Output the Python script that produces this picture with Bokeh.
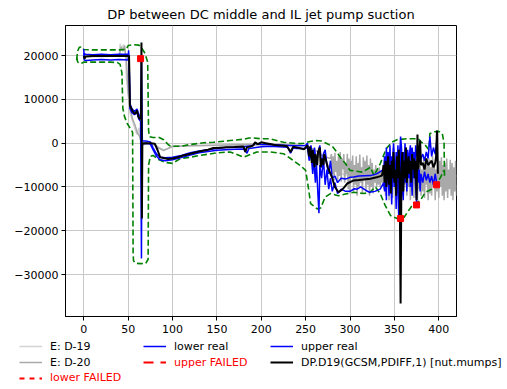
from bokeh.plotting import figure
from bokeh.layouts import column
from bokeh.models import Range1d, FixedTicker, Legend, LegendItem, CustomJSTickFormatter
from bokeh.embed import file_html
from bokeh.resources import INLINE

FONT = "DejaVu Sans"

# ---------------- data ----------------
x_ticks = [0, 50, 100, 150, 200, 250, 300, 350, 400]
y_ticks = [-30000, -20000, -10000, 0, 10000, 20000]

d19_x = [0, 10, 20, 30, 40, 41, 43, 45, 47, 48, 50, 52, 55, 58, 60, 62, 64, 66, 70, 75, 80, 85, 90,
         95, 100, 120, 150, 180, 200, 220, 240, 250, 260, 270, 280, 290, 300, 320, 340, 360, 380, 400, 420]
d19_y = [20000, 20000, 20000, 20000, 20100, 22700, 21500, 22500, 20000, 15000, 11000, 7000, 5000, 3000,
         2000, 3500, 800, -500, 0, 100, -300, -1000, -1500, -1200, -800, -600, -500, -500, -400, -300,
         -400, -500, -2000, -4000, -6000, -7000, -7500, -7500, -7000, -7500, -7500, -7000, -7500]

d20_x_early = [0, 20, 40, 42, 44, 46, 48, 50, 52, 55, 58, 60, 63, 65, 68, 75, 80, 85, 90, 95, 100,
               130, 160, 190, 220, 250, 260, 270]
d20_y_early = [19800, 19800, 19900, 22000, 21000, 22300, 19000, 12000, 8000, 5500, 4000, 2500, 1500, 0,
               -300, 0, -500, -1200, -1700, -1200, -700, -500, -400, -300, -300, -500, -1500, -3000]
d20_y_noise = [
    -3500, -2500, -7000, -3000, -8500, -2200, -6500, -4000, -9000, -3000, -7500, -2000, -8800, -3500,
    -6000, -2500, -9000, -4500, -7000, -2400, -10500, -3500, -11500, -4000, -8000, -2800, -11000, -5000,
    -9500, -3000, -12000, -4500, -10000, -2600, -9000, -5500, -11500, -3200, -8500, -4000, -11000, -2800,
    -9500, -5000, -12000, -3500, -10000, -4500, -11500, -6000, -9000, -5000, -10000, -6000, -9500, -5500,
    -10000, -6500, -9000, -5000, -10500, -4000, -12000, -3500, -9000, -5000, -13000, -3200, -10500, -6000,
    -12500, -4000, -9000, -3500, -12000, -5500, -10500, -3000, -13000, -6000, -11000, -3500, -12500, -4500,
    -9500, -3200, -12000, -6500, -10000, -3500, -13000, -5000, -11000, -4000, -12500, -3300, -9500, -5500,
    -13000, -4000, -10500, -3500, -12000, -6000, -11000, -3200, -12500, -5000, -9500, -4000, -13000, -3500,
    -11500, -5500, -12000, -3000, -10000, -4500, -13000, -6000, -11000, -3500, -12500, -4000, -10000, -3200,
    -12000, -5000, -13000, -4500, -11000, -3500, -12500, -6000, -10500, -3800, -12000, -4500, -13000, -5500,
    -11000, -4000, -12000]
d20_x = d20_x_early + list(range(278, 278 + len(d20_y_noise)))
d20_y = d20_y_early + d20_y_noise

env_up_x = [-8, -7, -5, -2, 0, 10, 20, 30, 40, 48, 50, 56, 62, 65, 69, 72, 73, 74, 78, 85, 90, 95, 98,
            109, 120, 135, 146, 165, 180, 186, 190, 200, 210, 225, 237, 241, 248, 255, 262, 268, 275, 280,
            285, 289, 295, 300, 314, 323, 327, 334, 341, 347, 353, 364, 377, 380, 385, 389, 390, 395, 400,
            404, 406, 406.5]
env_up_y = [19000, 21000, 21900, 22000, 21400, 21300, 21300, 21300, 21300, 21400, 22300, 22500, 22400,
            21800, 20500, 18500, 3000, 1500, 1300, 1300, 800, -300, -700, -700, -300, 100, 200, 600, 900,
            1200, 1200, 1000, 1000, 200, 0, -100, 0, 400, 600, 500, -200, -700, -2000, -3200, -4700, -6200,
            -6600, -5500, -7400, -4700, -1200, 200, 800, 1000, 1000, 300, -500, -1500, 2200, 2600, 2700,
            2200, 0, -8000]

env_lo_x = [-8, -7, -5, -2, 0, 10, 20, 30, 38, 41, 43, 44, 46, 49, 52, 55, 55.6, 56, 58, 64, 70, 72.5,
            73, 75, 78, 85, 92, 100, 109, 120, 131, 150, 165, 180, 195, 210, 225, 233, 244, 250, 253,
            255.6, 263, 267, 272, 278, 287, 295, 304, 315, 322, 328.6, 334, 339.6, 345.6, 353, 361, 366,
            370, 379, 385, 392, 398, 402, 405.6]
env_lo_y = [19600, 18600, 18200, 18300, 18500, 18500, 18500, 18500, 18400, 18000, 16000, 8000, 6000,
            4500, 3500, 2500, -25000, -26800, -27400, -27500, -27400, -26500, -5000, -3000, -2800, -3800,
            -4400, -4600, -3500, -3200, -2800, -2200, -2000, -3200, -2000, -2000, -2400, -3500, -5100, -6200,
            -10000, -13800, -15000, -14800, -12300, -11500, -12000, -11600, -11200, -11500, -11300, -10000,
            -11500, -14200, -16500, -17200, -16900, -15400, -14200, -13100, -11200, -10500, -9200, -7800,
            -6200]

lower_x = [0, 0.5, 2, 10, 20, 30, 40, 50, 50.5, 51, 52, 54, 57, 60, 62, 64, 65, 65.5, 67, 70, 75, 78,
           82, 86, 92, 100, 110, 120, 130, 140, 150, 160, 170, 180, 184, 186, 190, 200, 210, 220, 230,
           233, 236, 240, 250,
           252, 254, 256, 258, 259, 261, 262, 264, 265, 266, 268, 270, 272, 274, 276, 278, 280, 283, 286,
           290, 295, 300, 305, 308, 312, 318, 322, 328, 334, 338,
           339, 340, 341, 342, 343, 344, 345, 346, 347, 348, 349, 350, 351, 352, 353, 354, 355, 356, 357,
           358, 359, 360, 361, 362, 363, 364, 365, 366, 367, 368, 369, 370, 371, 372, 373, 374, 375, 376,
           377, 378, 379, 380, 382, 384, 386, 388, 390, 392, 394, 396, 398]
lower_y = [21500, 19000, 18900, 19000, 19100, 19000, 19100, 19000, 21200, 19000, 8000, 7000, 6500, 7000,
           5500, 5000, -26300, -300, -100, 0, -200, -1500, -3000, -3800, -4000, -3800, -3300, -2700, -2200,
           -1900, -1600, -1500, -1400, -1300, -2300, -1200, -1100, -800, -700, -800, -900, -2300, -1100,
           -1200, -1200,
           -800, -4000, -2000, -7000, -3000, -9000, -4000, -12300, -16000, -5000, -8000, -3500, -9500,
           -6000, -10500, -8000, -11000, -9000, -11500, -10500, -11000, -11000, -10400, -10500, -10000,
           -10800, -11200, -11000, -10500, -9000,
           -11000, -4000, -13000, -2000, -8000, -12000, -3000, -9000, -14000, -5000, -1000, -10000, -6000,
           -15000, -4000, -11000, -17300, -2000, -500, -12000, -6000, -13000, -3000, -9000, -1000, -11000,
           -4000, -8000, -2000, -10000, -5000, -12000, -3000, -8000, -6000, -10000, -13500, -4000, -9000,
           -6000, -11000, -7000, -9000, -6500, -8500, -7000, -9000, -7500, -9500, -7000, -9500]

upper_x = [0, 0.5, 2, 10, 20, 30, 40, 50, 51, 52, 54, 57, 60, 62, 64, 65, 66, 70, 75, 78, 82, 86, 92,
           100, 110, 120, 130, 140, 150, 160, 170, 180, 190, 193, 200, 210, 220, 230, 240, 250,
           252, 254, 256, 258, 260, 262, 264, 266, 268, 270, 272, 274, 276, 278, 280, 283, 286, 290, 295,
           300, 304, 310, 323, 330, 338,
           339, 340, 341, 342, 343, 344, 345, 346, 347, 348, 349, 350, 351, 352, 353, 354, 355, 356, 357,
           358, 359, 360, 361, 362, 363, 364, 365, 366, 367, 368, 369, 370, 371, 372, 373, 374, 375, 376,
           377, 378, 380, 382, 384, 386, 388, 390, 392, 394, 396, 398]
upper_y = [19500, 20500, 20300, 20200, 20300, 20200, 20300, 20300, 20000, 9000, 8000, 7200, 7800, 6500,
           6000, 19500, 500, 500, 300, -1000, -2500, -3200, -3300, -3200, -2800, -2200, -1800, -1500, -1200,
           -1000, -900, -800, -600, 0, -300, -300, -400, -500, -600, -500,
           0, -2500, -500, -4000, -1000, -5000, -2000, -500, -5500, -2500, -1500, -5000, -7000, -4000,
           -8000, -7500, -9000, -8000, -8200, -7800, -7700, -7500, -7400, -7000, -6000,
           -3000, -8000, -1000, -6000, -2000, -9000, -500, -7000, -3000, -10000, 0, -5000, -8000, -2000,
           -7000, -500, -9000, -3000, 1500, -1000, -8000, -2000, -5000, 0, -7000, -3000, -1500, -6000,
           -2500, -500, -5000, -1000, -4000, -2000, -6000, -500, -3000, -1500, -4500, -2000, -3500, -2500,
           -4000, -2000, -3500, 1500, -3000, -1000, -2500, 1000]

dp_x = [0, 1, 2, 10, 20, 30, 40, 50, 51, 52, 54.5, 56, 58, 60, 61.6, 63, 64.5, 65, 65.5, 66, 67, 75, 80,
        83, 86, 90, 95, 100, 106, 112, 120, 130, 140, 146, 150, 161, 170, 180, 182, 184, 188, 191, 193,
        196, 200, 205, 210, 215, 220, 225, 229, 233, 236, 240, 245, 248,
        252, 254, 255, 257, 258, 260, 261, 263, 264, 266, 267, 268, 270, 271, 273, 275, 276, 278, 280,
        283, 287, 291, 293, 297, 304, 310, 323, 330, 336,
        338, 339, 340, 341, 342, 343, 344, 345, 346, 347, 348, 349, 350, 351, 352, 353, 354, 355, 356,
        357, 358, 359, 360, 361, 362, 363, 364, 365, 366, 367, 368, 369, 370, 371, 372, 373, 374, 375,
        376, 377, 378, 379, 380, 382, 384, 386, 388, 390, 392, 394, 396, 397, 398, 399]
dp_y = [19900, 19300, 19800, 19900, 19900, 19900, 19900, 19900, 19900, 8600, 7500, 7000, 6700, 7500,
        6000, 5600, 5600, 23000, -17200, -300, 0, 0, -100, -1500, -3200, -3400, -3600, -3500, -3200,
        -2800, -2400, -1900, -1500, -1100, -1100, -900, -850, -750, -2000, -900, -750, -500, 200, -200,
        200, 0, -200, -400, -500, -600, -700, -2000, -800, -1000, -1200, -1400,
        -500, -3000, -800, -4500, -1500, -5500, -2500, -5000, -2000, -1000, -5500, -3500, -5000, -2500,
        -4000, -5500, -6000, -7000, -8000, -10000, -11200, -10600, -10200, -9200, -8500, -8400, -8100,
        -7800, -7400,
        -5000, -9000, -4000, -10000, -6000, -3000, -9500, -5000, -11500, -4000, -8000, -2000, -9000,
        -6000, -12000, -3000, -8000, -1500, -10000, -36600, -6000, -2000, -11000, -4000, -8000, -1000,
        -9000, -5000, -3000, -7000, -4000, -9000, -2500, -6000, -3500, -8000, -4000, -13000, 2000, -6000,
        -3000, 600, -5000, -4500, -6000, -3500, -5000, -4500, -4000, -5500, -4500, -3000, 2900, -7000,
        -5000]

upper_failed_x = [64]
upper_failed_y = [19300]
lower_failed_x = [357, 375, 397.5]
lower_failed_y = [-17200, -14100, -9500]

# styles
C_D19, C_D20, C_ENV, C_REAL, C_DP, C_FAIL = "#d3d3d3", "#a9a9a9", "green", "blue", "black", "red"

# ---------------- main figure ----------------
p = figure(width=507, height=336, output_backend="svg", toolbar_location=None,
           x_range=Range1d(-20.6, 420), y_range=Range1d(-39570, 26870),
           title="DP between DC middle and IL jet pump suction",
           min_border_left=65, min_border_right=51, min_border_top=25, min_border_bottom=20)
p.frame_align = False
p.background_fill_color = "white"
p.border_fill_color = "white"
p.outline_line_color = "black"
p.outline_line_width = 1
p.outline_line_alpha = 1

p.title.align = "center"
p.title.text_font = FONT
p.title.text_font_size = "13px"
p.title.text_font_style = "normal"
p.title.text_color = "black"
p.title.standoff = 7

for ax in (p.xaxis[0], p.yaxis[0]):
    ax.major_label_text_font = FONT
    ax.major_label_text_font_size = "11px"
    ax.major_label_text_color = "black"
    ax.major_tick_out = 4
    ax.major_tick_in = 0
    ax.minor_tick_out = 0
    ax.minor_tick_in = 0
    ax.axis_line_color = "black"
    ax.major_tick_line_color = "black"
p.xaxis.major_label_standoff = 4
p.yaxis.major_label_standoff = 3
p.xaxis.ticker = FixedTicker(ticks=x_ticks)
p.yaxis.ticker = FixedTicker(ticks=y_ticks)
p.yaxis.formatter = CustomJSTickFormatter(
    code="return tick < 0 ? '\\u2212' + Math.abs(tick) : '' + tick;")
p.grid.grid_line_color = "#c8c8c8"
p.grid.grid_line_width = 1

p.line(d19_x, d19_y, color=C_D19, line_width=1.5)
p.line(d20_x, d20_y, color=C_D20, line_width=1.5)
p.line(env_up_x, env_up_y, color=C_ENV, line_width=1.6, line_dash="6 3")
p.line(env_lo_x, env_lo_y, color=C_ENV, line_width=1.6, line_dash="6 3")
p.line(lower_x, lower_y, color=C_REAL, line_width=1.5)
p.line(upper_x, upper_y, color=C_REAL, line_width=1.5)
p.line(dp_x, dp_y, color=C_DP, line_width=2)
p.scatter(upper_failed_x, upper_failed_y, marker="square", size=6, color=C_FAIL)
p.scatter(lower_failed_x, lower_failed_y, marker="square", size=6, color=C_FAIL)

# ---------------- legend strip (its own plot, ranges far from the data) ----------------
q = figure(width=507, height=53, output_backend="svg", toolbar_location=None,
           x_range=Range1d(-1e7, -1e7 + 1), y_range=Range1d(-1e7, -1e7 + 1),
           x_axis_location=None, y_axis_location=None,
           min_border=0, min_border_left=0, min_border_right=0, min_border_top=0, min_border_bottom=0)
q.frame_align = False
q.outline_line_color = None
q.grid.visible = False
q.background_fill_color = "white"
q.border_fill_color = "white"

g_d19 = q.line(d19_x, d19_y, color=C_D19, line_width=1.5)
g_d20 = q.line(d20_x, d20_y, color=C_D20, line_width=1.5)
g_low = q.line(lower_x, lower_y, color=C_REAL, line_width=1.5)
g_up = q.line(upper_x, upper_y, color=C_REAL, line_width=1.5)
g_dp = q.line(dp_x, dp_y, color=C_DP, line_width=2)
g_uf = q.line(upper_failed_x, upper_failed_y, color=C_FAIL, line_width=2, line_dash="10 7")
g_lf = q.line(lower_failed_x, lower_failed_y, color=C_FAIL, line_width=2, line_dash="5 5")


def mk_legend(items, loc, color):
    lg = Legend(items=items, location=loc, orientation="vertical")
    lg.label_text_font = FONT
    lg.label_text_font_size = "11px"
    lg.label_text_color = color
    lg.glyph_width = 23
    lg.glyph_height = 16
    lg.label_height = 16
    lg.label_standoff = 8
    lg.spacing = 0
    lg.padding = 0
    lg.margin = 0
    lg.border_line_alpha = 0
    lg.background_fill_alpha = 0
    q.add_layout(lg)


mk_legend([LegendItem(label="E: D-19", renderers=[g_d19]),
           LegendItem(label="E: D-20", renderers=[g_d20])], (19, 19), "black")
mk_legend([LegendItem(label="lower FAILED", renderers=[g_lf])], (19, 3.5), "red")
mk_legend([LegendItem(label="lower real", renderers=[g_low])], (143, 35), "black")
mk_legend([LegendItem(label="upper FAILED", renderers=[g_uf])], (143, 19), "red")
mk_legend([LegendItem(label="upper real", renderers=[g_up]),
           LegendItem(label="DP.D19(GCSM,PDIFF,1) [nut.mumps]", renderers=[g_dp])], (270, 19), "black")

layout = column(p, q, spacing=0)
open("out.html", "w").write(file_html(layout, INLINE))
